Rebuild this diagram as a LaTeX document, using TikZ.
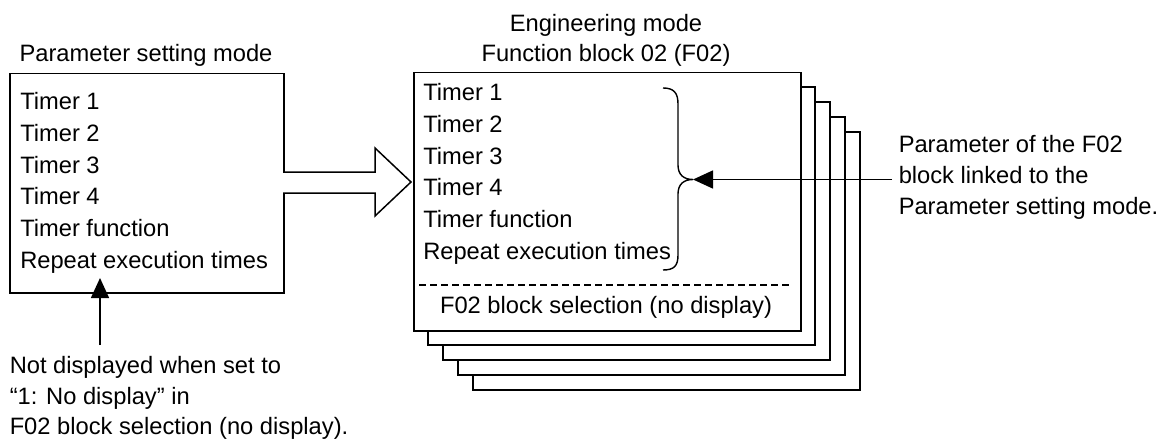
\documentclass[tikz,border=0pt]{standalone}
\usepackage{fontspec}
\setmainfont{Liberation Sans}
\usetikzlibrary{arrows.meta}
\begin{document}
\begin{tikzpicture}[x=1pt,y=-1pt, line width=1.5pt,
  txt/.style={inner sep=0pt, font=\fontsize{23.7}{28}\selectfont},
  card/.style={draw, fill=white},
  tip/.style={-{Triangle[length=20pt,width=18pt]}}]
\useasboundingbox (0,0) rectangle (1170,441);
% stacked function blocks
\foreach \i in {4,3,2,1}
  \draw[card] ({413+15*\i},{72+15*\i}) rectangle ({800+15*\i},{330+15*\i});
\node[card, anchor=north west, inner sep=0pt, minimum width=387pt, minimum height=258pt] (front) at (413,72) {};
% parameter setting box
\node[draw, anchor=north west, inner sep=0pt, minimum width=274pt, minimum height=219pt] (left) at (9,73) {};
% block arrow
\draw[fill=white] (283,172) -- (375,172) -- (375,148) -- (411,182) -- (375,216) -- (375,193) -- (283,193);
% dashed separator
\draw[dash pattern=on 7pt off 4pt, line width=1.2pt] (419,285) -- (792,285);
% titles
\node[txt, anchor=base] (ptitle) at (146,62) {Parameter setting mode};
\node[txt, anchor=base] (etitle1) at (606,32) {Engineering mode};
\node[txt, anchor=base] (etitle2) at (606,62) {Function block 02 (F02)};
% list texts
\foreach \t [count=\k from 0] in {Timer 1,Timer 2,Timer 3,Timer 4,Timer function,Repeat execution times}{
  \node[txt, anchor=base west] (pl\k) at (19.5,{109.5+31.8*\k}) {\t};
  \node[txt, anchor=base west] (fl\k) at (422.5,{100.5+31.8*\k}) {\t};
}
\node[txt, anchor=base] (sel) at (606,313) {F02 block selection (no display)};
% brace
\coordinate (bracetip) at (693,179.5);
\draw[line width=1.4pt] (663,88) .. controls (674,88) and (678,93) .. (678,104) -- (678,165)
  .. controls (678,175) and (684,179.5) .. (bracetip)
  .. controls (684,179.5) and (678,184) .. (678,194) -- (678,255)
  .. controls (678,266) and (674,270) .. (663,270);
% right note
\coordinate (noteend) at (892,179.5);
\draw[tip] (noteend) -- (bracetip);
\node[txt, anchor=base west] (r1) at (898,152.5) {Parameter of the F02};
\node[txt, anchor=base west] (r2) at (898,183.5) {block linked to the};
\node[txt, anchor=base west] (r3) at (898,214.5) {Parameter setting mode.};
% bottom note
\coordinate (uptail) at (100,345);
\coordinate (uphead) at (100,278);
\draw[tip] (uptail) -- (uphead);
\node[txt, anchor=base west] (b1) at (9,373) {Not displayed when set to};
\node[txt, anchor=base west] (b2) at (9,404) {“1: No display” in};
\node[txt, anchor=base west] (b3) at (9,434) {F02 block selection (no display).};
\end{tikzpicture}
\end{document}
